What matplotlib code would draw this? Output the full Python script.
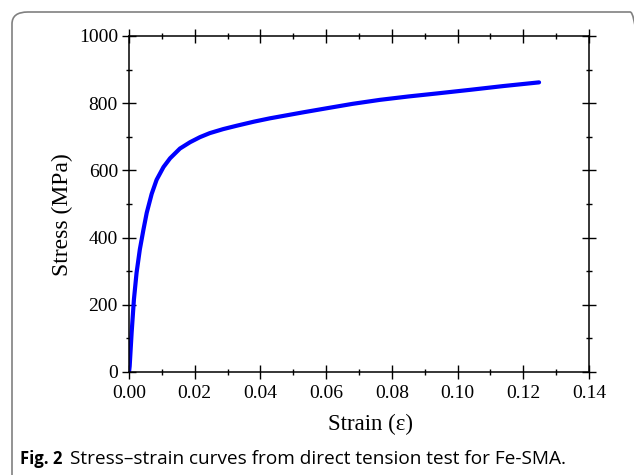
import matplotlib
matplotlib.use("Agg")
import matplotlib.pyplot as plt
from matplotlib.patches import FancyBboxPatch
from matplotlib.ticker import MultipleLocator, FormatStrFormatter

strain = [0.0, 0.0002, 0.0008, 0.0015, 0.0023, 0.0033, 0.0044, 0.0054, 0.0069,
          0.0084, 0.0105, 0.0125, 0.0155, 0.0186, 0.0216, 0.0246, 0.0287, 0.0328,
          0.0380, 0.0429, 0.0480, 0.0531, 0.0602, 0.0680, 0.0764, 0.0850, 0.0937,
          0.1040, 0.1139, 0.1248]
stress = [0, 17, 117, 216, 295, 365, 424, 474, 530,
          572, 610, 636, 665, 684, 699, 711, 723, 733,
          745, 755, 764, 773, 785, 798, 810, 820, 829,
          840, 851, 862]

xlabel = "Strain (ε)"
ylabel = "Stress (MPa)"
caption_bold = "Fig. 2"
caption_text = "Stress–strain curves from direct tension test for Fe-SMA."

fig = plt.figure(figsize=(6.34, 4.75), dpi=100)

frame = FancyBboxPatch((12/634, -0.1), 1.0, 1.0 - 12/475 + 0.1,
                       boxstyle="round,pad=0,rounding_size=0.025",
                       transform=fig.transFigure, facecolor="none",
                       edgecolor="#808080", linewidth=1.2, clip_on=False)
fig.patches.append(frame)

ax = fig.add_axes([129/634, 1 - 372/475, 460/634, 336/475])
ax.plot(strain, stress, color="#0000ff", lw=3, solid_capstyle="round",
        solid_joinstyle="round")

ax.set_xlim(0, 0.14)
ax.set_ylim(0, 1000)
ax.xaxis.set_major_locator(MultipleLocator(0.02))
ax.xaxis.set_minor_locator(MultipleLocator(0.01))
ax.yaxis.set_major_locator(MultipleLocator(200))
ax.yaxis.set_minor_locator(MultipleLocator(100))
ax.xaxis.set_major_formatter(FormatStrFormatter("%.2f"))

serif = "Liberation Serif"
ax.tick_params(which="major", direction="inout", length=10, width=1, top=True, right=True,
               labelsize=14, pad=4)
ax.tick_params(axis="y", which="major", pad=3)
ax.tick_params(which="minor", direction="inout", length=5, width=1, top=True, right=True)
for lab in ax.get_xticklabels() + ax.get_yticklabels():
    lab.set_fontfamily(serif)
for s in ax.spines.values():
    s.set_linewidth(1.1)

ax.set_xlabel(xlabel, fontsize=16.5, fontfamily=serif)
ax.set_ylabel(ylabel, fontsize=17, fontfamily=serif)
ax.xaxis.set_label_coords((370 - 129) / 460, (372 - 414) / 336)
ax.yaxis.set_label_coords((73 - 129) / 460, (372 - 215) / 336)

fig.text(20/634, 1 - 459/475, caption_bold, fontsize=12, fontweight="bold",
         fontfamily="Open Sans", va="center", ha="left")
fig.text(70/634, 1 - 459/475, caption_text, fontsize=13.7,
         fontfamily="Open Sans", va="center", ha="left")

fig.savefig("out.png", dpi=100)
